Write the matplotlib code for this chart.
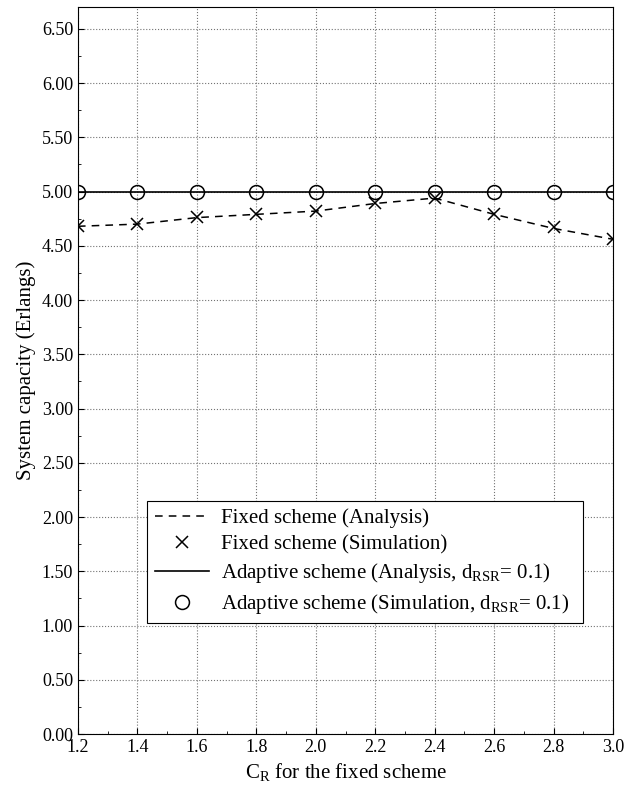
import matplotlib
matplotlib.use('Agg')
import matplotlib.pyplot as plt
from matplotlib.ticker import MultipleLocator, FormatStrFormatter

plt.rcParams['font.family'] = 'Liberation Serif'
plt.rcParams['mathtext.fontset'] = 'custom'
plt.rcParams['mathtext.rm'] = 'Liberation Serif'
plt.rcParams['mathtext.it'] = 'Liberation Serif:italic'

# data
cr = [1.2, 1.4, 1.6, 1.8, 2.0, 2.2, 2.4, 2.6, 2.8, 3.0]
fixed_analysis = [4.68, 4.70, 4.76, 4.79, 4.82, 4.89, 4.94, 4.79, 4.66, 4.56]
fixed_sim = [4.68, 4.70, 4.77, 4.79, 4.82, 4.89, 4.94, 4.79, 4.67, 4.56]
adaptive_analysis = [5.00] * 10
adaptive_sim = [5.00] * 10

fig = plt.figure(figsize=(6.44, 7.91), dpi=100)
ax = fig.add_axes([0.121, 0.072, 0.831, 0.919])

ax.plot(cr, fixed_analysis, 'k--', lw=1.1, dashes=(5, 4),
        label='Fixed scheme (Analysis)')
ax.plot(cr, fixed_sim, 'kx', ms=8, mew=1.1, label='Fixed scheme (Simulation)')
ax.plot(cr, adaptive_analysis, 'k-', lw=1.2,
        label=r'Adaptive scheme (Analysis, d$_{\mathregular{RSR}}$= 0.1)')
ax.plot(cr, adaptive_sim, 'ko', ms=10, mfc='none', mew=1.1,
        label=r'Adaptive scheme (Simulation, d$_{\mathregular{RSR}}$= 0.1)')

ax.set_xlim(1.2, 3.0)
ax.set_ylim(0, 6.7)
ax.xaxis.set_major_locator(MultipleLocator(0.2))
ax.xaxis.set_minor_locator(MultipleLocator(0.1))
ax.yaxis.set_major_locator(MultipleLocator(0.5))
ax.yaxis.set_minor_locator(MultipleLocator(0.25))
ax.xaxis.set_major_formatter(FormatStrFormatter('%.1f'))
ax.yaxis.set_major_formatter(FormatStrFormatter('%.2f'))
ax.tick_params(which='both', direction='in', labelsize=13)
ax.tick_params(which='major', length=4)
ax.tick_params(which='minor', length=2)
ax.grid(True, which='major', ls=':', color='0.45', lw=0.8)
for s in ax.spines.values():
    s.set_linewidth(0.8)

ax.set_xlabel(r'C$_{\mathregular{R}}$ for the fixed scheme', fontsize=15)
ax.set_ylabel('System capacity (Erlangs)', fontsize=15)

leg = ax.legend(loc='lower left', bbox_to_anchor=(0.11, 0.138, 0.853, 0.17),
                mode='expand', fontsize=15, fancybox=False, edgecolor='k',
                framealpha=1, borderpad=0.35, labelspacing=0.32,
                handlelength=2.6, handletextpad=0.6)
leg.get_frame().set_linewidth(0.8)

fig.savefig('out.png', dpi=100)
